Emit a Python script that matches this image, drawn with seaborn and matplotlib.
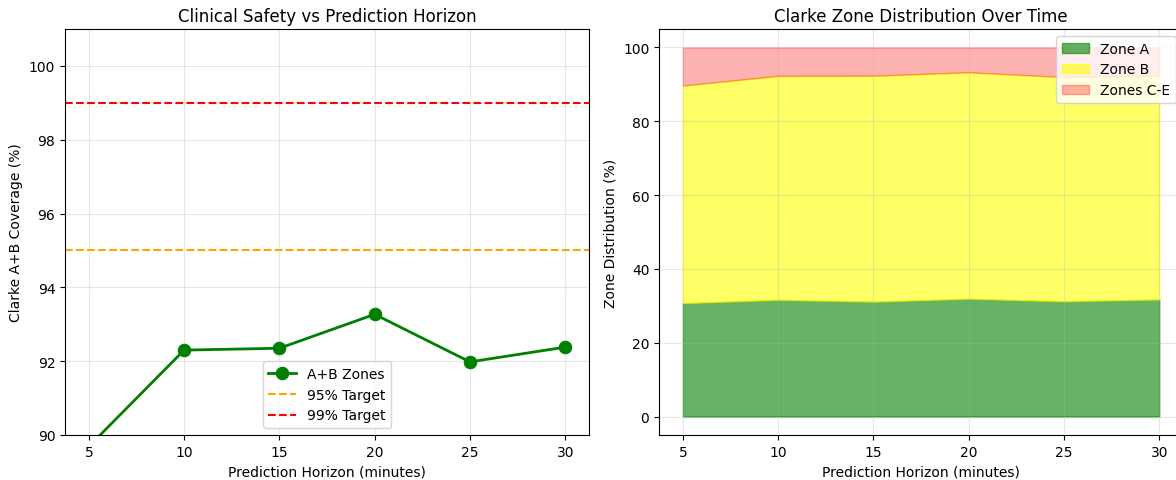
import matplotlib
matplotlib.use("Agg")
import matplotlib.pyplot as plt
import seaborn as sns
import pandas as pd

horizons = [5, 10, 15, 20, 25, 30]
ab_coverage = [89.69, 92.30, 92.35, 93.27, 91.98, 92.38]
zone_a = [30.7, 31.6, 31.1, 31.9, 31.2, 31.7]
zone_b = [ab - a for ab, a in zip(ab_coverage, zone_a)]
zone_ce = [100 - ab for ab in ab_coverage]

plt.rcParams['font.family'] = ['DejaVu Sans']

fig, (ax1, ax2) = plt.subplots(1, 2, figsize=(11.76, 4.81), dpi=100)
fig.subplots_adjust(left=0.0553, right=1.006, bottom=0.0936, top=0.9376, wspace=0.1336)

df = pd.DataFrame({"h": horizons, "cov": ab_coverage})
sns.lineplot(data=df, x="h", y="cov", ax=ax1, marker="o", markersize=9,
             linewidth=2, color="green", label="A+B Zones", markeredgecolor="green")
ax1.axhline(95, color="orange", linestyle="--", linewidth=1.5, label="95% Target")
ax1.axhline(99, color="red", linestyle="--", linewidth=1.5, label="99% Target")
ax1.set_ylim(90, 101)
ax1.set_xlim(3.75, 31.25)
ax1.set_xlabel("Prediction Horizon (minutes)")
ax1.set_ylabel("Clarke A+B Coverage (%)")
ax1.set_title("Clinical Safety vs Prediction Horizon")
ax1.grid(True, alpha=0.3)
ax1.legend(loc="lower center")

fill_colors = ["green", "yellow", "red"]
polys = ax2.stackplot(horizons, zone_a, zone_b, zone_ce,
                      labels=["Zone A", "Zone B", "Zones C-E"],
                      colors=fill_colors, alpha=0.6)
polys[2].set_alpha(0.3)
for p, c in zip(polys, fill_colors):
    p.set_edgecolor(c)
    p.set_linewidth(1.0)
ax2.set_xlim(3.75, 31.25)
ax2.set_ylim(-5, 105)
ax2.set_xlabel("Prediction Horizon (minutes)")
ax2.set_ylabel("Zone Distribution (%)")
ax2.set_title("Clarke Zone Distribution Over Time")
ax2.grid(True, alpha=0.3)
ax2.legend(loc="upper right")

fig.savefig("out.png", dpi=100)
